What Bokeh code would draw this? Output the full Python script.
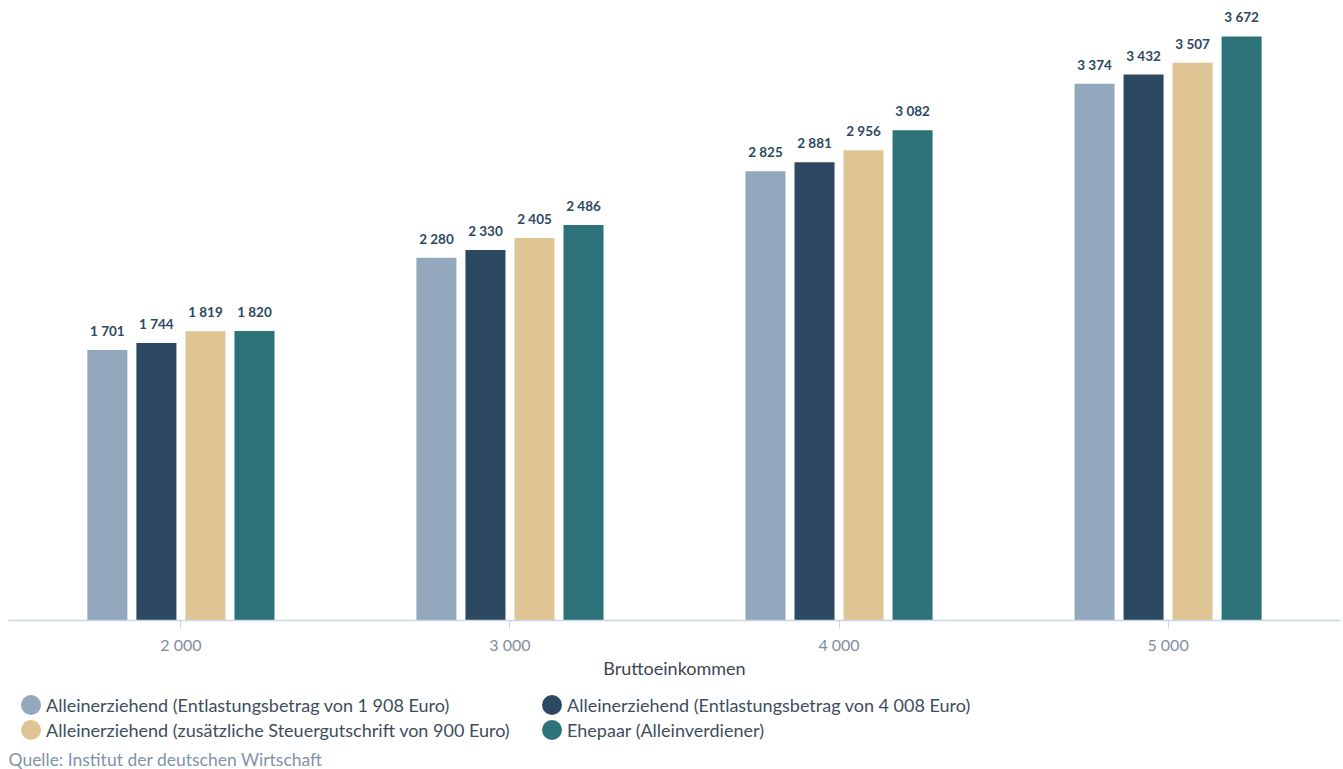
from bokeh.plotting import figure
from bokeh.layouts import column
from bokeh.models import (ColumnDataSource, FactorRange, Range1d, LabelSet, Legend,
                          LegendItem, Title)
from bokeh.core.properties import value
from bokeh.transform import dodge
from bokeh.embed import file_html
from bokeh.resources import INLINE

categories = ["2 000", "3 000", "4 000", "5 000"]
series_names = [
    "Alleinerziehend (Entlastungsbetrag von 1 908 Euro)",
    "Alleinerziehend (Entlastungsbetrag von 4 008 Euro)",
    "Alleinerziehend (zusätzliche Steuergutschrift von 900 Euro)",
    "Ehepaar (Alleinverdiener)",
]
s1 = [1701, 2280, 2825, 3374]
s2 = [1744, 2330, 2881, 3432]
s3 = [1819, 2405, 2956, 3507]
s4 = [1820, 2486, 3082, 3672]
series_values = [s1, s2, s3, s4]
colors = ["#93a8bc", "#2d4861", "#e0c594", "#2e7279"]

FONT = "Lato"

def fmt(v):
    return f"{v:,}".replace(",", " ")

p = figure(x_range=FactorRange(*categories, range_padding=0.012),
           y_range=Range1d(0, 3898),
           width=1343, height=681, output_backend="svg", toolbar_location=None,
           min_border_left=8, min_border_right=3, min_border_top=0, min_border_bottom=0)

offsets = [-0.2235, -0.0745, 0.0745, 0.2235]
for name, vals, col, off in zip(series_names, series_values, colors, offsets):
    src = ColumnDataSource(dict(x=categories, y=vals, lab=[fmt(v) for v in vals]))
    p.vbar(x=dodge("x", off, range=p.x_range), top="y", width=0.1216, source=src,
           fill_color=col, line_color=None)
    p.add_layout(LabelSet(x=dodge("x", off, range=p.x_range), y="y", text="lab", source=src,
                          text_align="center", text_baseline="bottom", y_offset=11,
                          text_font=value(FONT), text_font_size=value("13.5px"),
                          text_font_style=value("bold"), text_color=value("#2d4861")))

p.yaxis.visible = False
p.xgrid.grid_line_color = None
p.ygrid.grid_line_color = None
p.outline_line_color = None
ax = p.xaxis[0]
ax.axis_line_color = "#c8d8e8"
ax.axis_line_width = 1.5
ax.major_tick_line_color = "#c8d8e8"
ax.major_tick_out = 8
ax.major_tick_in = 0
ax.minor_tick_line_color = None
ax.major_label_text_font = FONT
ax.major_label_text_font_size = "16px"
ax.major_label_text_color = "#7f8fa0"
ax.major_label_standoff = 6
ax.axis_label = "Bruttoeinkommen"
ax.axis_label_text_font = FONT
ax.axis_label_text_font_size = "18px"
ax.axis_label_text_font_style = "normal"
ax.axis_label_text_color = "#3d4653"
ax.axis_label_standoff = 0

# legend figure
lf = figure(width=1343, height=88, output_backend="svg", toolbar_location=None,
            x_axis_type=None, y_axis_type=None, x_range=Range1d(0, 1), y_range=Range1d(0, 1),
            min_border_left=8, min_border_right=0, min_border_top=0, min_border_bottom=0)
lf.xgrid.grid_line_color = None
lf.ygrid.grid_line_color = None
lf.outline_line_color = None
items = []
for name, col in zip(series_names, colors):
    r = lf.ellipse(x=[-5], y=[-5], width=20, height=20, width_units="screen",
                   height_units="screen", fill_color=col, line_color=None)
    items.append(LegendItem(label=name, renderers=[r]))
legend = Legend(items=[items[0], items[1], items[2], items[3]], ncols=2,
                location=(10, 4), orientation="horizontal",
                label_text_font=FONT, label_text_font_size="18px", label_text_color="#3d4d5e",
                glyph_width=25, glyph_height=25, label_height=25, label_width=493, spacing=0,
                label_standoff=3, border_line_color=None, background_fill_alpha=0,
                padding=0, margin=0)
lf.add_layout(legend)
lf.add_layout(Title(text="Quelle: Institut der deutschen Wirtschaft", align="left",
                    text_font=FONT, text_font_size="17.5px", text_font_style="normal",
                    text_color="#8094a8", standoff=0), "below")

open("out.html", "w").write(file_html(column(p, lf, spacing=0), INLINE))
